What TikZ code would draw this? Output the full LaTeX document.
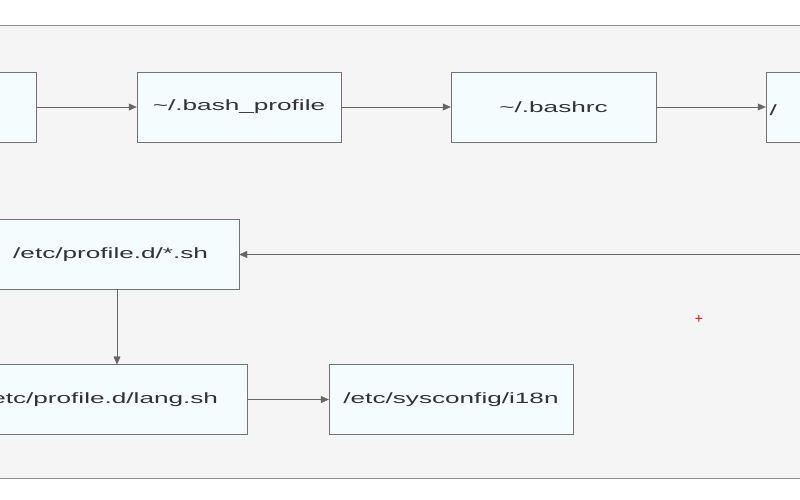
\documentclass[tikz,border=0pt]{standalone}
\usepackage{fontspec}
\setmainfont{Liberation Sans}
\newfontfamily\widefont[FakeStretch=1.75]{Liberation Sans}
\usetikzlibrary{arrows.meta}
\begin{document}
\begin{tikzpicture}[x=1bp,y=-1bp,
  box/.style={draw=black!55,fill=cyan!4!white,minimum height=70bp,inner sep=0pt,font=\widefont\fontsize{15}{17}\selectfont,text=black!80},
  conn/.style={draw=black!60,-{Triangle[length=8bp,width=7bp]}}]
\useasboundingbox (0,0) rectangle (800,500);
\clip (0,0) rectangle (800,500);
\fill[white] (0,0) rectangle (800,500);
\draw[black!45,fill=black!4] (-5,25) rectangle (805,478);
\node[box,minimum width=120bp] (a) at (-24,107) {};
\node[box,minimum width=204bp] (b) at (239,107) {\textasciitilde/.bash\_profile};
\node[box,minimum width=205bp] (c) at (553.5,107) {\textasciitilde/.bashrc};
\node[box,minimum width=120bp] (d) at (826,107) {};
\node[font=\widefont\fontsize{15}{17}\selectfont,text=black!80,anchor=west] (dt) at (766,110) {/};
\node[box,minimum width=260bp,text width=250bp,align=right] (p) at (109,254.5) {/etc/profile.d/*.sh\hspace*{26bp}};
\node[box,minimum width=268bp,text width=258bp,align=right] (l) at (113,399.5) {/etc/profile.d/lang.sh\hspace*{25bp}};
\node[box,minimum width=244bp] (i) at (451,399.5) {/etc/sysconfig/i18n};
\coordinate (r) at (805,254.5);
\draw[conn] (a) -- (b);
\draw[conn] (b) -- (c);
\draw[conn] (c) -- (d);
\draw[conn] (r) -- (p);
\draw[conn] (117,289.5) -- (117,364.5);
\draw[conn] (l) -- (i);
\node[text=red,font=\fontsize{14}{16}\selectfont] (plus) at (699,319) {+};
\end{tikzpicture}
\end{document}
